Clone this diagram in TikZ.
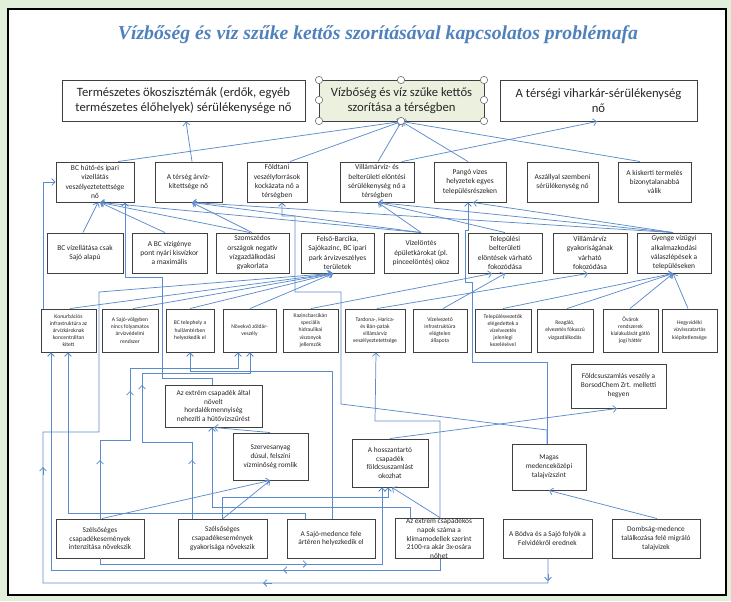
\documentclass[tikz,border=0pt]{standalone}
\usepackage{fontspec}
\setmainfont{Carlito}
\newfontfamily\titlefont{Liberation Serif}
\usetikzlibrary{arrows.meta}
\definecolor{bgout}{RGB}{226,239,218}
\definecolor{lnblue}{RGB}{91,139,204}
\definecolor{ttblue}{RGB}{79,129,189}
\definecolor{corefill}{RGB}{235,241,222}
\definecolor{boxline}{RGB}{64,64,64}
% box given by its corners in pixel units: style, name, x1, y1, x2, y2, text
\newcommand\boxat[7]{\node[#1, minimum width={(#5-#3)*0.75pt}, minimum height={(#6-#4)*0.75pt}] (#2) at ({(#3+#5)/2},{(#4+#6)/2}) {#7};}
\begin{document}
\begin{tikzpicture}[x=0.75pt, y=-0.75pt,
  box/.style={draw=boxline, line width=0.7pt, fill=white, inner sep=0pt, align=center, text=black!85},
  topbox/.style={box, font=\fontsize{9.5}{11.2}\selectfont},
  midbox/.style={box, font=\fontsize{5.6}{7}\selectfont},
  smlbox/.style={box, font=\fontsize{4.2}{5.3}\selectfont},
  botbox/.style={box, font=\fontsize{5.5}{6.7}\selectfont},
  conn/.style={draw=lnblue, line width=0.55pt},
  arr/.style={conn, -{Straight Barb[length=2.6pt,width=5.2pt]}},
  handle/.style={circle, draw=black!55, fill=white, line width=0.45pt, minimum size=5.5pt, inner sep=0pt}]
\useasboundingbox (0,0) rectangle (731,601);
\fill[bgout] (0,0) rectangle (731,601);
\draw[black, line width=1.2pt, fill=white] (8,9) rectangle (726,595);

\node[font=\titlefont\bfseries\itshape\fontsize{14.8}{17}\selectfont, text=ttblue] (title) at (378,35) {Vízbőség és víz szűke kettős szorításával kapcsolatos problémafa};

% top level
\boxat{topbox}{TL}{62}{80}{305}{121}{Természetes ökoszisztémák (erdők, egyéb\\természetes élőhelyek) sérülékenysége nő}
\boxat{topbox, fill=corefill}{TC}{319}{80}{484}{121}{Vízbőség és víz szűke kettős\\szorítása a térségben}
\boxat{topbox}{TR}{500}{80}{697}{121}{A térségi viharkár-sérülékenység\\nő}

% second level
\boxat{midbox}{B1}{56}{162}{134}{202}{BC hűtő-és ipari\\vízellátás\\veszélyeztetettsége\\nő}
\boxat{midbox}{B2}{155}{162}{222}{202}{A térség árvíz-\\kitettsége nő}
\boxat{midbox}{B3}{247}{162}{307}{202}{Földtani\\veszélyforrások\\kockázata nő a\\térségben}
\boxat{midbox}{B4}{340}{162}{414}{202}{Villámárvíz- és\\belterületi elöntési\\sérülékenység nő a\\térségben}
\boxat{midbox}{B5}{434}{162}{506}{202}{Pangó vizes\\helyzetek egyes\\településrészeken}
\boxat{midbox}{B6}{527}{162}{598}{202}{Aszállyal szembeni\\sérülékenység nő}
\boxat{midbox}{B7}{618}{162}{691}{202}{A kiskerti termelés\\bizonytalanabbá\\válik}

% third level
\boxat{midbox}{C1}{47}{233}{123}{273}{BC vízellátása csak\\Sajó alapú}
\boxat{midbox}{C2}{132}{233}{207}{273}{A BC vízigénye\\pont nyári kisvízkor\\a maximális}
\boxat{midbox}{C3}{216}{233}{289}{273}{Szomszédos\\országok negatív\\vízgazdálkodási\\gyakorlata}
\boxat{midbox}{C4}{301}{233}{374}{273}{Felső-Barcika,\\Sajókazinc, BC ipari\\park árvízveszélyes\\területek}
\boxat{midbox}{C5}{384}{233}{458}{273}{Vízelöntés\\épületkárokat (pl.\\pinceelöntés) okoz}
\boxat{midbox}{C6}{468}{233}{542}{273}{Települési\\belterületi\\elöntések várható\\fokozódása}
\boxat{midbox}{C7}{553}{233}{627}{273}{Villámárvíz\\gyakoriságának\\várható\\fokozódása}
\boxat{midbox}{C8}{637}{233}{711}{273}{Gyenge vízügyi\\alkalmazkodási\\válaszlépések a\\településeken}

% fourth level
\boxat{smlbox}{D1}{41}{309}{96}{352}{Konurbációs\\infrastruktúra az\\árvízkároknak\\koncentráltan\\kitett}
\boxat{smlbox}{D2}{102}{309}{158}{352}{A Sajó-völgyben\\nincs folyamatos\\árvízvédelmi\\rendszer}
\boxat{smlbox}{D3}{166}{309}{214}{352}{BC telephely a\\hullámtérben\\helyezkedik el}
\boxat{smlbox}{D4}{223}{309}{276}{352}{Növekvő zöldár-\\veszély}
\boxat{smlbox}{D5}{283}{309}{338}{352}{Kazincbarcikán\\speciális\\hidraulikai\\viszonyok\\jellemzők}
\boxat{smlbox}{D6}{345}{309}{405}{352}{Tardona-, Harica-\\és Bán-patak\\villámárvíz\\veszélyeztetettsége}
\boxat{smlbox}{D7}{413}{309}{467}{352}{Vízelvezető\\infrastruktúra\\elégtelen\\állapota}
\boxat{smlbox}{D8}{475}{309}{531}{352}{Településvezetők\\elégedettek a\\vízelvezetés\\jelenlegi\\kezelésével}
\boxat{smlbox}{D9}{537}{309}{593}{352}{Reagáló,\\elvezetés fókuszú\\vízgazdálkodás}
\boxat{smlbox}{D10}{603}{309}{658}{352}{Övárok\\rendszerek\\kialakulását gátló\\jogi háttér}
\boxat{smlbox}{D11}{662}{309}{717}{352}{Hegyvidéki\\vízvisszatartás\\kiépítetlensége}

% intermediate boxes
\boxat{botbox}{E1}{165}{385}{262}{427}{Az extrém csapadék által\\növelt\\hordalékmennyiség\\nehezíti a hűtővízszűrést}
\boxat{botbox}{E2}{233}{433}{308}{480}{Szervesanyag\\dúsul, felszíni\\vízminőség romlik}
\boxat{botbox}{E3}{352}{439}{428}{487}{A hosszantartó\\csapadék\\földcsuszamlást\\okozhat}
\boxat{botbox}{E4}{571}{364}{666}{408}{Földcsuszamlás veszély a\\BorsodChem Zrt. melletti\\hegyen}
\boxat{botbox}{E5}{512}{444}{586}{490}{Magas\\medenceközépi\\talajvízszint}

% root causes
\boxat{botbox}{F1}{56}{519}{144}{558}{Szélsőséges\\csapadékesemények\\intenzitása növekszik}
\boxat{botbox}{F2}{178}{519}{267}{558}{Szélsőséges\\csapadékesemények\\gyakorisága növekszik}
\boxat{botbox}{F3}{287}{519}{375}{558}{A Sajó-medence fele\\ártéren helyezkedik el}
\boxat{botbox}{F4}{395}{519}{483}{558}{Az extrém csapadékos\\napok száma a\\klímamodellek szerint\\2100-ra akár 3x-osára\\nőhet}
\boxat{botbox}{F5}{503}{519}{592}{558}{A Bódva és a Sajó folyók a\\Felvidékről erednek}
\boxat{botbox}{F6}{612}{519}{700}{558}{Dombság-medence\\találkozása felé migráló\\talajvizek}

% links into the top level
\draw[arr] (B2.north -| 192,0) -- (TL.south -| 186,0);
\draw[arr] (B4.north -| 402,0) -- (TR.south -| 597,0);
\draw[arr] (B1.north -| 118,0) -- (TC.south);
\draw[arr] (B3.north -| 290,0) -- (TC.south);
\draw[arr] (B4.north -| 378,0) -- (TC.south);
\draw[arr] (B5.north -| 468,0) -- (TC.south);
\draw[arr] (B7.north -| 640,0) -- (TC.south);

% third level to second level
\draw[arr] (C1.north -| 83,0) -- (B1.south -| 98,0);
\draw[arr] (C2.north -| 165,0) -- (B1.south -| 100,0);
\draw[arr] (C3.north -| 250,0) -- (B1.south -| 100,0);
\draw[arr] (C3.north -| 252,0) -- (B2.south -| 192,0);
\draw[arr] (C5.north -| 421,0) -- (B1.south -| 100,0);
\draw[arr] (C5.north -| 421,0) -- (B2.south -| 192,0);
\draw[arr] (C5.north -| 421,0) -- (B4.south -| 378,0);
\draw[arr] (C6.north -| 505,0) -- (B4.south -| 378,0);
\draw[arr] (C8.north -| 673,0) -- (B4.south -| 378,0);
\draw[arr] (C8.north -| 673,0) -- (B5.south -| 473,0);
\draw[arr] (C8.north -| 673,0) -- (B2.south -| 192,0);

% fourth level to third level
\draw[arr] (D1.north -| 70,0) -- (C4.south -| 333,0);
\draw[arr] (D2.north -| 133,0) -- (C4.south -| 333,0);
\draw[arr] (D3.north -| 190,0) -- (C4.south -| 333,0);
\draw[arr] (D4.north -| 250,0) -- (C4.south -| 333,0);
\draw[arr] (D5.north -| 311,0) -- (C6.south -| 492,0);
\draw[arr] (D7.north -| 443,0) -- (C6.south -| 505,0);
\draw[arr] (D6.north -| 377,0) -- (C7.south -| 588,0);
\draw[arr] (D8.north -| 503,0) -- (C8.south -| 673,0);
\draw[arr] (D9.north -| 567,0) -- (C8.south -| 673,0);
\draw[arr] (D10.north -| 630,0) -- (C8.south -| 673,0);
\draw[arr] (D11.north -| 688,0) -- (C8.south -| 673,0);

% elbow routes
\draw[arr] (D1.north -| 43,0) -- (43,182) -- (B1.west);
\draw[arr] (F5.south -| 548,0) -- (548,583) -- (43,583) -- (43,432) -- (99,432) -- (99,292) -- (C4.south -| 331,0);
\draw[arr] (F4.south -| 440,0) -- (440,570) -- (51,570) -- (D1.south -| 51,0);
\draw[arr] (F3.north -| 305,0) -- (305,513) -- (68,513) -- (D1.south -| 68,0);
\draw[arr] (F3.north -| 332,0) -- (332,371) -- (190,371) -- (D3.south -| 190,0);
\draw[arr] (F1.north -| 100,0) -- (100,440) -- (130,440) -- (130,368) -- (238,368) -- (D4.south -| 238,0);
\draw[arr] (F2.north -| 192,0) -- (192,442) -- (142,442) -- (142,373) -- (250,373) -- (D4.south -| 250,0);
\draw[arr] (F4.north -| 440,0) -- (440,421) -- (375,421) -- (D6.south -| 376,0);
\draw[arr] (E1.north -| 212,0) -- (212,378) -- (162,378) -- (162,277) -- (125,277) -- (B1.south -| 125,0);
\draw[arr] (F4.north -| 410,0) -- (410,507) -- (212,507) -- (E1.south -| 212,0);
\draw[arr] (F1.south -| 100,0) -- (100,564) -- (382,564) -- (E3.south -| 382,0);
\draw[arr] (F2.north -| 222,0) -- (222,497) -- (388,497) -- (E3.south -| 388,0);
\draw[arr] (E5.north -| 547,0) -- (547,362) -- (472,362) -- (472,282) -- (465,282) -- (465,230) -- (468,230) -- (B5.south -| 468,0);
\draw[arr] (E5.north -| 547,0) -- (547,430) -- (341,404) -- (341,292) -- (295,292) -- (295,216) -- (282,216) -- (B3.south -| 282,0);

% direct links between lower boxes
\draw[arr] (E2.north -| 270,0) -- (E1.south -| 214,0);
\draw[arr] (F1.north -| 102,0) -- (E2.south -| 270,0);
\draw[arr] (F2.north -| 223,0) -- (E2.south -| 270,0);
\draw[arr] (F4.north -| 440,0) -- (E3.south -| 392,0);
\draw[arr] (E3.north -| 390,0) -- (E4.south -| 617,0);
\draw[arr] (F6.north -| 657,0) -- (E5.south -| 549,0);

% direction marks along the long routes
\draw[arr] (548,574) -- (548,581);
\draw[arr] (272,583) -- (263,583);
\draw[arr] (292,570) -- (283,570);
\draw[arr] (298,564) -- (307,564);
\draw[arr] (43,475) -- (43,467);
\draw[arr] (100,468) -- (100,460);
\draw[arr] (192,468) -- (192,460);
\draw[arr] (130,399) -- (130,391);
\draw[arr] (142,393) -- (142,385);

% selection handles of the core box
\foreach \hx/\hy [count=\i] in {319/80, 401/80, 484/80, 319/100, 484/100, 319/121, 401/121, 484/121}
  \node[handle] (h\i) at (\hx,\hy) {};
\end{tikzpicture}
\end{document}
